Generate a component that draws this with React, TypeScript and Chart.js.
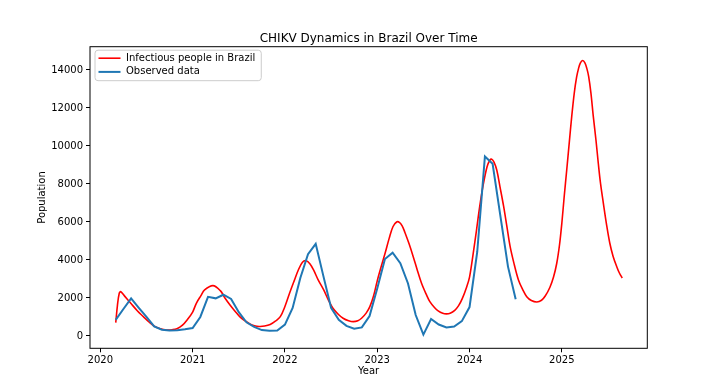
import React, { useEffect, useRef } from 'react';
import { Chart, registerables } from 'chart.js';

Chart.register(...registerables);

const TITLE = 'CHIKV Dynamics in Brazil Over Time';
const X_LABEL = 'Year';
const Y_LABEL = 'Population';
const MODEL_LABEL = 'Infectious people in Brazil';
const OBS_LABEL = 'Observed data';

const xTicks = [2020, 2021, 2022, 2023, 2024, 2025];
const yTicks = [0, 2000, 4000, 6000, 8000, 10000, 12000, 14000];

// Model curve (decimal years / values)
const modelYears = [
  2020.167, 2020.185, 2020.205, 2020.222, 2020.268, 2020.33, 2020.4, 2020.466, 2020.53, 2020.58,
  2020.65, 2020.72, 2020.78, 2020.83, 2020.89, 2020.94, 2021.0, 2021.04, 2021.09, 2021.13,
  2021.22, 2021.3, 2021.35, 2021.405, 2021.46, 2021.51, 2021.57, 2021.62, 2021.67, 2021.72,
  2021.78, 2021.84, 2021.9, 2021.95, 2022.0, 2022.05, 2022.1, 2022.145, 2022.19, 2022.23,
  2022.27, 2022.31, 2022.36, 2022.42, 2022.47, 2022.52, 2022.58, 2022.63, 2022.69, 2022.74,
  2022.79, 2022.83, 2022.88, 2022.92, 2022.96, 2023.0, 2023.04, 2023.085, 2023.13, 2023.17,
  2023.21, 2023.24, 2023.27, 2023.3, 2023.345, 2023.39, 2023.435, 2023.48, 2023.53, 2023.57,
  2023.62, 2023.66, 2023.71, 2023.75, 2023.79, 2023.84, 2023.88, 2023.92, 2023.97, 2024.0,
  2024.04, 2024.075, 2024.11, 2024.15, 2024.19, 2024.22, 2024.24, 2024.265, 2024.295, 2024.33,
  2024.37, 2024.405, 2024.44, 2024.485, 2024.53, 2024.575, 2024.62, 2024.67, 2024.73, 2024.78,
  2024.82, 2024.87, 2024.91, 2024.945, 2024.975, 2025.0, 2025.025, 2025.053, 2025.08, 2025.107,
  2025.135, 2025.16, 2025.18, 2025.2, 2025.226, 2025.25, 2025.27, 2025.29, 2025.315, 2025.34,
  2025.37, 2025.395, 2025.42, 2025.45, 2025.485, 2025.52, 2025.555, 2025.595, 2025.625, 2025.655,
];
const modelValues = [
  700, 1600, 2250, 2330, 2070, 1720, 1330, 1016, 720, 526,
  380, 316, 330, 384, 570, 842, 1260, 1720, 2120, 2421,
  2650, 2384, 2000, 1631, 1300, 1016, 790, 632, 540, 500,
  520, 600, 790, 1016, 1550, 2245, 2900, 3473, 3880, 3960,
  3800, 3473, 2950, 2421, 1900, 1458, 1130, 932, 800, 753,
  800, 932, 1200, 1542, 2100, 2900, 3600, 4350, 5150, 5750,
  6000, 5980, 5800, 5450, 4850, 4175, 3450, 2773, 2200, 1805,
  1500, 1316, 1190, 1160, 1195, 1350, 1580, 1950, 2595, 3100,
  4350, 5550, 6805, 8000, 8910, 9250, 9300, 9150, 8737, 7850,
  6805, 5750, 4700, 3750, 2947, 2450, 2070, 1870, 1790, 1880,
  2100, 2550, 3100, 3826, 4800, 5931, 7300, 8737, 10150, 11542,
  12800, 13620, 14060, 14360, 14500, 14380, 14100, 13680, 12800, 11600,
  10300, 9090, 8000, 6984, 5850, 4880, 4200, 3647, 3300, 3050,
];

// Observed monthly data
const obsMonths = [
  '2020-03', '2020-04', '2020-05', '2020-06', '2020-07', '2020-08', '2020-09', '2020-10', '2020-11', '2020-12',
  '2021-01', '2021-02', '2021-03', '2021-04', '2021-05', '2021-06', '2021-07', '2021-08', '2021-09', '2021-10', '2021-11', '2021-12',
  '2022-01', '2022-02', '2022-03', '2022-04', '2022-05', '2022-06', '2022-07', '2022-08', '2022-09', '2022-10', '2022-11', '2022-12',
  '2023-01', '2023-02', '2023-03', '2023-04', '2023-05', '2023-06', '2023-07', '2023-08', '2023-09', '2023-10', '2023-11', '2023-12',
  '2024-01', '2024-02', '2024-03', '2024-04', '2024-05', '2024-06', '2024-07',
];
const obsValues = [
  850, 1420, 1980, 1480, 1000, 500, 330, 290, 300, 350,
  420, 1000, 2060, 1980, 2170, 1950, 1250, 720, 480, 310, 270, 290,
  600, 1470, 3050, 4300, 4850, 3150, 1480, 850, 530, 380, 450, 1050,
  2500, 4050, 4380, 3830, 2760, 1100, 70, 890, 600, 450, 500, 780,
  1520, 4420, 9450, 9060, 6350, 3650, 1930,
];

const X_MIN = 2019.888;
const X_MAX = 2025.926;
const Y_MIN = -650;
const Y_MAX = 15226;

const FONT = '"DejaVu Sans", sans-serif';

function monthToYear(m: string): number {
  const [y, mo] = m.split('-').map(Number);
  return y + (mo - 1) / 12;
}

const decorPlugin = {
  id: 'decor',
  afterDraw(chart: any) {
    const { ctx, chartArea: a } = chart;
    ctx.save();
    // frame
    ctx.strokeStyle = '#000';
    ctx.lineWidth = 1;
    ctx.strokeRect(a.left, a.top, a.right - a.left, a.bottom - a.top);
    // title
    ctx.fillStyle = '#000';
    ctx.font = `12px ${FONT}`;
    ctx.textAlign = 'center';
    ctx.textBaseline = 'alphabetic';
    ctx.fillText(TITLE, (a.left + a.right) / 2, a.top - 5);
    // axis labels
    ctx.font = `10px ${FONT}`;
    ctx.textBaseline = 'middle';
    ctx.fillText(X_LABEL, (a.left + a.right) / 2, a.bottom + 22.7);
    ctx.save();
    ctx.translate(a.left - 48, (a.top + a.bottom) / 2);
    ctx.rotate(-Math.PI / 2);
    ctx.fillText(Y_LABEL, 0, 0);
    ctx.restore();
    // legend
    const entries = [chart.data.datasets[1], chart.data.datasets[0]];
    ctx.font = `10px ${FONT}`;
    const textW = Math.max(...entries.map((d: any) => ctx.measureText(d.label).width));
    const bx = a.left + 5;
    const by = a.top + 3.5;
    const bw = 8 + 22 + 4 + textW + 3;
    const bh = 30.5;
    ctx.beginPath();
    (ctx as any).roundRect(bx, by, bw, bh, 3);
    ctx.fillStyle = 'rgba(255,255,255,0.8)';
    ctx.fill();
    ctx.strokeStyle = '#cccccc';
    ctx.lineWidth = 1;
    ctx.stroke();
    entries.forEach((d: any, i: number) => {
      const y = by + 8 + i * 13.7;
      ctx.beginPath();
      ctx.strokeStyle = d.borderColor;
      ctx.lineWidth = d.borderWidth;
      ctx.moveTo(bx + 3.5, y);
      ctx.lineTo(bx + 25.5, y);
      ctx.stroke();
      ctx.fillStyle = '#000';
      ctx.textAlign = 'left';
      ctx.textBaseline = 'middle';
      ctx.fillText(d.label, bx + 31, y);
    });
    ctx.restore();
  },
};

export default function App() {
  const canvasRef = useRef<HTMLCanvasElement | null>(null);

  useEffect(() => {
    if (!canvasRef.current) return;
    Chart.defaults.font.family = FONT;
    Chart.defaults.font.size = 10;
    Chart.defaults.color = '#000';

    const modelData = modelYears.map((x, i) => ({ x, y: modelValues[i] }));
    const obsData = obsMonths.map((m, i) => ({ x: monthToYear(m), y: obsValues[i] }));

    const chart = new Chart(canvasRef.current, {
      type: 'line',
      data: {
        datasets: [
          {
            label: OBS_LABEL,
            data: obsData,
            borderColor: '#1f77b4',
            backgroundColor: '#1f77b4',
            borderWidth: 2,
            pointRadius: 0,
            tension: 0,
            order: 0,
          },
          {
            label: MODEL_LABEL,
            data: modelData,
            borderColor: '#ff0000',
            backgroundColor: '#ff0000',
            borderWidth: 1.6,
            pointRadius: 0,
            tension: 0.35,
            capBezierPoints: false,
            order: 1,
          },
        ],
      },
      options: {
        animation: false,
        responsive: false,
        devicePixelRatio: 1,
        layout: { padding: { left: 0, right: 719 - 647.3, top: 46.7, bottom: 0 } },
        plugins: {
          legend: { display: false },
          title: { display: false },
          tooltip: { enabled: false },
        },
        scales: {
          x: {
            type: 'linear',
            min: X_MIN,
            max: X_MAX,
            border: { display: false },
            grid: { drawOnChartArea: false, drawTicks: true, tickLength: 4, color: '#000', tickWidth: 1 },
            ticks: {
              padding: 2,
              color: '#000',
              font: { family: FONT, size: 10 },
              callback: (v: any) => String(v),
              maxRotation: 0,
            },
            afterBuildTicks: (scale: any) => {
              scale.ticks = xTicks.map((v) => ({ value: v }));
            },
            afterFit: (scale: any) => {
              scale.height = 392 - 348.3;
            },
          },
          y: {
            type: 'linear',
            min: Y_MIN,
            max: Y_MAX,
            border: { display: false },
            grid: { drawOnChartArea: false, drawTicks: true, tickLength: 4, color: '#000', tickWidth: 1 },
            ticks: {
              padding: 3,
              color: '#000',
              font: { family: FONT, size: 10 },
              callback: (v: any) => String(v),
            },
            afterBuildTicks: (scale: any) => {
              scale.ticks = yTicks.map((v) => ({ value: v }));
            },
            afterFit: (scale: any) => {
              scale.width = 90;
            },
          },
        },
      },
      plugins: [decorPlugin],
    } as any);

    return () => chart.destroy();
  }, []);

  return (
    <div style={{ position: 'fixed', left: 0, top: 0, width: 719, height: 392, background: '#fff' }}>
      <canvas ref={canvasRef} width={719} height={392} style={{ width: 719, height: 392, display: 'block' }} />
    </div>
  );
}
